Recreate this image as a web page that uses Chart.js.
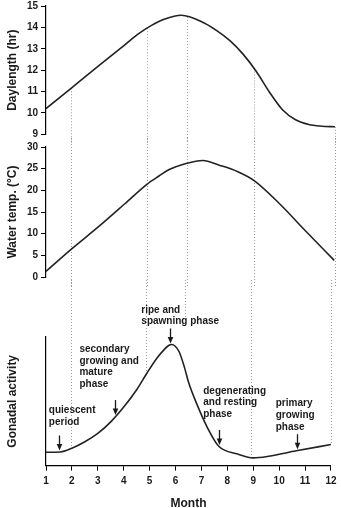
<!DOCTYPE html>
<html><head><meta charset="utf-8">
<script src="https://cdn.jsdelivr.net/npm/chart.js@4.4.1/dist/chart.umd.min.js"></script>
<style>
html,body{margin:0;padding:0;background:#fff;overflow:hidden;}
#wrap{position:relative;width:341px;height:508px;overflow:hidden;}
.c{position:absolute;left:0;width:341px;}
</style></head><body>
<div id="wrap">
<div class="c" style="top:-3.3px;height:146.3px"><canvas id="c1"></canvas></div>
<div class="c" style="top:137.7px;height:148px"><canvas id="c2"></canvas></div>
<div class="c" style="top:280px;height:231px"><canvas id="c3"></canvas></div>
</div>
<script>
// ---- data ----
const monthTicks = [1,2,3,4,5,6,7,8,9,10,11,12];
const dayTicks = [9,10,11,12,13,14,15];
const tempTicks = [0,5,10,15,20,25,30];

const dayMonths = [1,2,3,4,4.5,5,5.5,6.15,7,7.5,8,8.5,9,9.5,10,10.5,11,11.5,12];
const dayLength = [10.2,11.2,12.2,13.18,13.68,14.08,14.38,14.57,14.22,13.85,13.38,12.75,11.95,10.98,10.15,9.68,9.46,9.38,9.35];

const tempMonths = [1,2,3,4,4.84,5.3,5.69,6.33,6.97,7.6,8.3,8.91,9.89,10.9,11.97];
const waterTemp = [1.3,6.6,11.6,16.9,21.4,23.3,24.8,26.2,26.9,25.8,24.3,22.3,16.9,10.5,3.85];

const gonadMonths = [1,1.55,2,2.5,3,3.5,4,4.5,4.9,5.3,5.57,5.72,5.85,5.98,6.14,6.35,6.5,6.84,7.22,7.67,8.4,9,9.6,10.66,12];
const gonadActivity = [10.4,10.6,13.5,18.5,25,34,45.5,59,72,84,90.4,93.2,94.2,93.0,88.5,76,65,47,30,15,9,6,7.3,11.5,16.4];

const dottedMonths = [1.95,4.85,6.35,8.92,12];
const dottedEnds = [null,null,109,null,null]; // gonadal level where line stops (null = on curve)

const annText = [["quiescent","period"],["secondary","growing and","mature","phase"],["ripe and","spawning phase"],["degenerating","and resting","phase"],["primary","growing","phase"]];
const annMonth = [1.11,2.29,4.68,7.07,9.87];
const annLevel = [43,90.4,121,58,48.2];
const arrowMonth = [1.5,3.68,5.8,7.68,10.68];

// ---- styling ----
const FONT = '"Liberation Sans", Arial, sans-serif';
const INK = '#1a1a1a';
const AXW = 46;
Chart.defaults.font.family = FONT;
Chart.defaults.color = INK;

function interp(xs, ys, x){
  for(let i=0;i<xs.length-1;i++){
    if(x>=xs[i] && x<=xs[i+1]){ const t=(x-xs[i])/(xs[i+1]-xs[i]); return ys[i]+t*(ys[i+1]-ys[i]); }
  }
  return x<xs[0]?ys[0]:ys[ys.length-1];
}
const pts = (xs, ys) => xs.map((m,i)=>({x:m,y:ys[i]}));

const dotPlugin = {
  id:'dots',
  beforeDatasetsDraw(chart, args, opts){
    const {ctx} = chart; const sx = chart.scales.x, sy = chart.scales.y;
    ctx.save(); ctx.strokeStyle='#9a9a9a'; ctx.lineWidth=1; ctx.setLineDash([1,2]);
    dottedMonths.forEach((m,i)=>{
      const px = Math.round(sx.getPixelForValue(m))+0.5;
      let y0, y1;
      if(opts.panel===1){ y0 = sy.getPixelForValue(interp(dayMonths, dayLength, m)); y1 = chart.height; }
      else if(opts.panel===2){ y0 = 0; y1 = chart.height; }
      else { y0 = 0; y1 = sy.getPixelForValue(dottedEnds[i]!==null ? dottedEnds[i] : interp(gonadMonths, gonadActivity, m)); }
      ctx.beginPath(); ctx.moveTo(px,y0); ctx.lineTo(px,y1); ctx.stroke();
    });
    ctx.restore();
  }
};

const annPlugin = {
  id:'ann',
  afterDraw(chart){
    const {ctx} = chart; const sx = chart.scales.x, sy = chart.scales.y;
    ctx.save();
    ctx.font = 'bold 10px ' + FONT; ctx.fillStyle = INK; ctx.textBaseline='middle'; ctx.textAlign='left';
    annText.forEach((lines,i)=>{
      const x = sx.getPixelForValue(annMonth[i]); const y = sy.getPixelForValue(annLevel[i]);
      lines.forEach((t,j)=>ctx.fillText(t, x, y + j*11.7));
      const ax = Math.round(sx.getPixelForValue(arrowMonth[i]))+0.5;
      const tip = sy.getPixelForValue(interp(gonadMonths, gonadActivity, arrowMonth[i])) - 1.5;
      ctx.strokeStyle = INK; ctx.lineWidth = 1.3;
      ctx.beginPath(); ctx.moveTo(ax, tip-15); ctx.lineTo(ax, tip-5); ctx.stroke();
      ctx.beginPath(); ctx.moveTo(ax-2.8, tip-6.5); ctx.lineTo(ax+2.8, tip-6.5); ctx.lineTo(ax, tip); ctx.closePath(); ctx.fill();
    });
    ctx.restore();
  }
};

function yScale(min, max, ticks, title, showTicks){
  return {
    type:'linear', min, max,
    afterBuildTicks: s => { if(ticks) s.ticks = ticks.map(v=>({value:v})); },
    afterFit: s => { s.width = AXW; },
    ticks:{display:showTicks, font:{size:10, weight:'bold'}, color:INK, padding:3},
    grid:{display:true, drawOnChartArea:false, drawTicks:showTicks, tickLength:5, color:'#000', lineWidth:1},
    border:{display:true, color:'#000', width:1.2},
    title:{display:true, text:title, font:{size:12, weight:'bold'}, color:INK, padding:{top:5.5, bottom:0}}
  };
}
function lineDs(xs, ys){
  return {data: pts(xs, ys), borderColor:'#222', borderWidth:1.6, pointRadius:0, cubicInterpolationMode:'monotone', fill:false};
}
const common = {animation:false, responsive:true, maintainAspectRatio:false, devicePixelRatio:1,
  plugins:{legend:{display:false}, tooltip:{enabled:false}}};

new Chart(document.getElementById('c1'), {
  type:'line', data:{datasets:[lineDs(dayMonths, dayLength)]},
  options:{...common, layout:{padding:{left:0,right:6,top:0,bottom:0}},
    plugins:{...common.plugins, dots:{panel:1}},
    scales:{x:{type:'linear',min:1,max:12,display:false}, y:yScale(9,15,dayTicks,'Daylength (hr)',true)}},
  plugins:[dotPlugin]
});
new Chart(document.getElementById('c2'), {
  type:'line', data:{datasets:[lineDs(tempMonths, waterTemp)]},
  options:{...common, layout:{padding:{left:0,right:6,top:0,bottom:0}},
    plugins:{...common.plugins, dots:{panel:2}},
    scales:{x:{type:'linear',min:1,max:12,display:false}, y:yScale(0,30,tempTicks,'Water temp. (°C)',true)}},
  plugins:[dotPlugin]
});
new Chart(document.getElementById('c3'), {
  type:'line', data:{datasets:[lineDs(gonadMonths, gonadActivity)]},
  options:{...common, layout:{padding:{left:0,right:6,top:57,bottom:0}},
    plugins:{...common.plugins, dots:{panel:3}},
    scales:{
      x:{type:'linear',min:1,max:12,
        afterBuildTicks: s => { s.ticks = monthTicks.map(v=>({value:v})); },
        ticks:{font:{size:10, weight:'bold'}, color:INK, padding:4.5},
        grid:{display:true, drawOnChartArea:false, drawTicks:true, tickLength:5, color:'#000'},
        border:{display:true, color:'#000', width:1.2},
        title:{display:true, text:'Month', font:{size:12, weight:'bold'}, color:INK, padding:{top:5, bottom:0}}},
      y:yScale(0,100,null,'Gonadal activity',false)}},
  plugins:[dotPlugin, annPlugin]
});
</script>
</body></html>
